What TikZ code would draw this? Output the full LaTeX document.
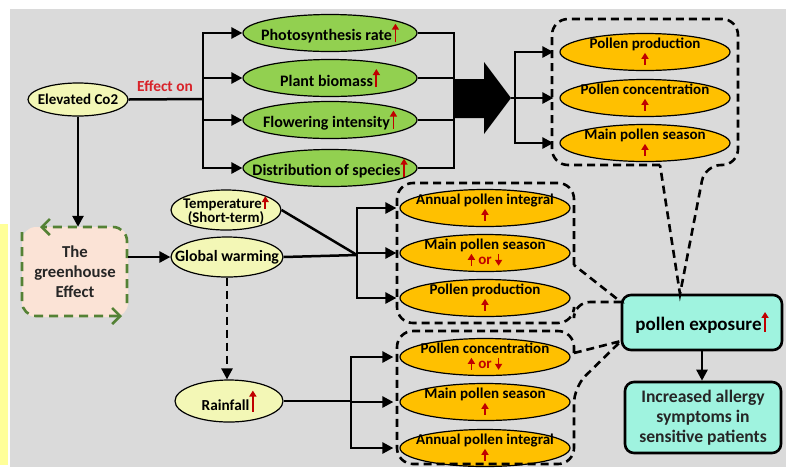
\documentclass[tikz,border=0pt]{standalone}
\usepackage{fontspec}
\setmainfont{Carlito}
\usetikzlibrary{shapes.geometric,arrows.meta}
\definecolor{bg}{HTML}{DADADA}
\definecolor{lyel}{HTML}{F3F7B6}
\definecolor{lgreen}{HTML}{92D050}
\definecolor{gold}{HTML}{FFC000}
\definecolor{aqua}{HTML}{9FF3DF}
\definecolor{peach}{HTML}{FBE3D6}
\definecolor{ggreen}{HTML}{548235}
\definecolor{rd}{HTML}{C00000}
\definecolor{effred}{HTML}{D8232A}
\definecolor{ystrip}{HTML}{FFFF99}
\newcommand{\uarr}[1][11]{\tikz[baseline=0pt]\draw[draw=rd,line width=1.8pt,-{Triangle[length=6pt,width=7pt]}] (0,-1pt) -- (0,#1pt);}
\newcommand{\darr}[1][11]{\tikz[baseline=0pt]\draw[draw=rd,line width=1.8pt,-{Triangle[length=6pt,width=7pt]}] (0,#1pt) -- (0,-1pt);}
\tikzset{
  lbl/.style={align=center, inner sep=0pt},
  ell/.style={ellipse, draw=black, line width=1.2pt, inner sep=0pt},
  yel/.style={ell, fill=lyel},
  grn/.style={ell, fill=lgreen, minimum width=174pt, minimum height=37pt,
     label={[lbl, font=\bfseries\fontsize{16}{16}\selectfont]center:{#1}}},
  org/.style={ell, fill=gold, minimum width=170pt, minimum height=37pt,
     label={[lbl, font=\bfseries\fontsize{15}{15}\selectfont]center:{#1}}},
  conn/.style={line width=2.5pt},
  arr/.style={conn, -{Triangle[length=11pt,width=11pt]}},
  dbox/.style={line width=2.6pt, dash pattern=on 8pt off 5pt},
  gdash/.style={draw=ggreen, line width=2.6pt, dash pattern=on 9pt off 6pt},
  abox/.style={draw=black, line width=2.6pt, rounded corners=9pt, fill=aqua, align=center}
}
\begin{document}
\begin{tikzpicture}[x=1pt,y=-1pt]
\useasboundingbox (0,0) rectangle (786,467);
\fill[white] (0,0) rectangle (786,467);
\fill[bg] (10,9) rectangle (786,467);
\fill[ystrip] (0,224) rectangle (8,465);

% left column
\node[yel, minimum width=100pt, minimum height=33pt,
  label={[lbl, font=\bfseries\fontsize{15}{15}\selectfont]center:{Elevated Co2}}] (co2) at (78,99.5) {};
\node[text=effred, font=\bfseries\fontsize{15.4}{16}\selectfont] (eff) at (165,86) {Effect on};

\node[fill=peach, rounded corners=14pt, minimum width=106pt, minimum height=90pt, align=center, text=black!85, font=\bfseries\fontsize{16.7}{20}\selectfont] (gh) at (75,272) {The\\greenhouse\\Effect};
\draw[gdash, rounded corners=14pt, -{Straight Barb[length=8pt,width=16pt]}] (127,303) -- (127,227) -- (40,227);
\draw[gdash, rounded corners=14pt, -{Straight Barb[length=8pt,width=16pt]}] (22,232) -- (22,316) -- (122,316);

% green ellipses
\node[grn={Photosynthesis rate\uarr[17]}] (g1) at (330,33) {};
\node[grn={Plant biomass\uarr[17]}] (g2) at (330,78) {};
\node[grn={Flowering intensity\uarr[17]}] (g3) at (330,120) {};
\node[grn={Distribution of species\uarr[17]}] (g4) at (330,168) {};

% yellow middle ellipses
\node[yel, minimum width=110pt, minimum height=40pt,
  label={[lbl, font=\bfseries\fontsize{14.8}{12}\selectfont]center:{Temperature\uarr[12]\\(Short-term)}}] (temp) at (226,210) {};
\node[yel, minimum width=112pt, minimum height=40pt,
  label={[lbl, font=\bfseries\fontsize{15.8}{16}\selectfont]center:{Global warming}}] (gw) at (227,257) {};
\node[yel, minimum width=108pt, minimum height=42pt,
  label={[lbl, font=\bfseries\fontsize{15.3}{16}\selectfont]center:{Rainfall\uarr[20]}}] (rain) at (229,401) {};

% orange ellipses
\node[org={Pollen production\\\uarr}] (p1) at (645,52) {};
\node[org={Pollen concentration\\\uarr}] (p2) at (645,98) {};
\node[org={Main pollen season\\\uarr}] (p3) at (645,143) {};
\node[org={Annual pollen integral\\\uarr}] (m1) at (485,208) {};
\node[org={Main pollen season\\\uarr{} {\color{rd}or} \darr}] (m2) at (485,253) {};
\node[org={Pollen production\\\uarr}] (m3) at (485,298) {};
\node[org={Pollen concentration\\\uarr{} {\color{rd}or} \darr}] (l1) at (485,357) {};
\node[org={Main pollen season\\\uarr}] (l2) at (485,402) {};
\node[org={Annual pollen integral\\\uarr}] (l3) at (485,448) {};

% right boxes
\node[abox, minimum width=160pt, minimum height=55pt, font=\bfseries\fontsize{19}{20}\selectfont] (pe) at (702,322.5) {pollen exposure\uarr[19]};
\node[abox, minimum width=156pt, minimum height=71pt, text=black!85, font=\bfseries\fontsize{17.6}{20}\selectfont] (al) at (703,417.5) {Increased allergy\\symptoms in\\sensitive patients};

% dashed callout boxes
\draw[dbox] (660,165) [rounded corners=16pt] -- (552,165) -- (552,19) -- (738,19) -- (738,165) -- (705,165) [sharp corners] -- (680,294) -- cycle;
\draw[dbox] (574,265) [rounded corners=16pt] -- (574,183) -- (397,183) -- (397,323) -- (574,323) -- (574,302) [sharp corners] -- (621,302) -- cycle;
\draw[dbox] (574,353) [rounded corners=16pt] -- (574,331) -- (397,331) -- (397,464) -- (574,464) -- (574,387) [sharp corners] -- (621,341) -- cycle;

% connectors top
\coordinate (j1) at (203,99);
\draw[conn] (co2.east) -- (j1);
\draw[conn, line cap=rect] (j1 |- g1.west) -- (j1 |- g4.west);
\foreach \g in {g1,g2,g3,g4} \draw[arr] (j1 |- \g.west) -- (\g.west);

\coordinate (j2) at (454,98);
\foreach \g in {g1,g2,g3,g4} \draw[conn] (\g.east) -- (j2 |- \g.east);
\draw[conn, line cap=rect] (j2 |- g1.east) -- (j2 |- g4.east);

\coordinate (bt) at (511,98);
\fill[black] (455,79) -- (484,79) -- (484,62) -- (bt) -- (484,134) -- (484,118) -- (455,118) -- cycle;

\coordinate (j3) at (515,98);
\draw[conn] (bt) -- (j3);
\draw[conn, line cap=rect] (j3 |- p1.west) -- (j3 |- p3.west);
\foreach \p in {p1,p2,p3} \draw[arr, shorten >=6pt] (j3 |- \p.west) -- (\p.west);

% connectors left/middle
\draw[arr] (co2.south) -- (co2.south |- gh.north);
\draw[arr] (gh.east |- gw.west) -- (gw.west);
\draw[arr, dash pattern=on 8pt off 5pt] (gw.south) -- (gw.south |- rain.north);

\coordinate (j4) at (357,255);
\draw[conn] (gw.east) -- (j4);
\draw[conn] (temp.east) -- (j4);
\draw[conn, line cap=rect] (j4 |- m1.west) -- (j4 |- m3.west);
\foreach \m in {m1,m2,m3} \draw[arr, shorten >=3pt] (j4 |- \m.west) -- (\m.west);

\coordinate (j5) at (351,401);
\draw[conn] (rain.east) -- (j5);
\draw[conn, line cap=rect] (j5 |- l1.west) -- (j5 |- l3.west);
\foreach \l in {l1,l2,l3} \draw[arr, shorten >=6pt] (j5 |- \l.west) -- (\l.west);

\draw[arr] (pe.south) -- (pe.south |- al.north);
\end{tikzpicture}
\end{document}
